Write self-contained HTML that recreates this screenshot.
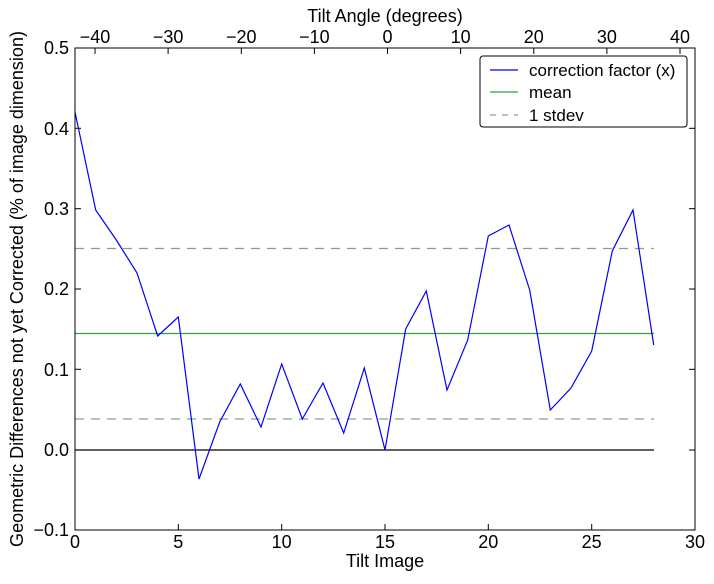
<!DOCTYPE html>
<html><head><style>body{margin:0;background:#fff;}svg text{font-family:"Liberation Sans",sans-serif;}</style></head><body>
<svg width="714" height="579" xmlns="http://www.w3.org/2000/svg">
<rect width="714" height="579" fill="#fff"/>
<g id="plot">
<line x1="75" y1="450" x2="654" y2="450" stroke="#000" stroke-width="1.3"/>
<line x1="75" y1="333.5" x2="654" y2="333.5" stroke="#3a9e3a" stroke-width="1.2"/>
<line x1="75" y1="248.5" x2="654" y2="248.5" stroke="#7fa87f" stroke-width="1.2" stroke-dasharray="9,7"/>
<line x1="75" y1="419" x2="654" y2="419" stroke="#7fa87f" stroke-width="1.2" stroke-dasharray="9,7"/>
<polyline fill="none" stroke="#0000ff" stroke-width="1.2" points="75,112 95.7,210 116.3,240 137,273 157.7,336 178.3,317 199,479 219.7,422 240.3,384 261,427 281.7,364 302.3,419 323,383 343.7,433 364.3,368 385,450 405.7,329 426.3,291 447,390 467.7,340 488.3,236 509,225 529.7,290 550.3,410 571,388 591.7,351 612.3,251 633,210 653.7,345"/>
</g>
<rect x="75" y="48" width="620" height="482" fill="none" stroke="#000" stroke-width="1"/>
<g stroke="#000" stroke-width="1">
<line x1="75" y1="530" x2="75" y2="524"/><line x1="178.3" y1="530" x2="178.3" y2="524"/><line x1="281.7" y1="530" x2="281.7" y2="524"/><line x1="385" y1="530" x2="385" y2="524"/><line x1="488.3" y1="530" x2="488.3" y2="524"/><line x1="591.7" y1="530" x2="591.7" y2="524"/>
<line x1="75" y1="48" x2="81" y2="48"/><line x1="75" y1="128.3" x2="81" y2="128.3"/><line x1="75" y1="208.7" x2="81" y2="208.7"/><line x1="75" y1="289" x2="81" y2="289"/><line x1="75" y1="369.3" x2="81" y2="369.3"/><line x1="75" y1="450" x2="81" y2="450"/>
<line x1="695" y1="128.3" x2="689" y2="128.3"/><line x1="695" y1="208.7" x2="689" y2="208.7"/><line x1="695" y1="289" x2="689" y2="289"/><line x1="695" y1="369.3" x2="689" y2="369.3"/><line x1="695" y1="450" x2="689" y2="450"/>
<line x1="95" y1="48" x2="95" y2="54"/><line x1="168.1" y1="48" x2="168.1" y2="54"/><line x1="241.3" y1="48" x2="241.3" y2="54"/><line x1="314.4" y1="48" x2="314.4" y2="54"/><line x1="387.5" y1="48" x2="387.5" y2="54"/><line x1="460.6" y1="48" x2="460.6" y2="54"/><line x1="533.8" y1="48" x2="533.8" y2="54"/><line x1="606.9" y1="48" x2="606.9" y2="54"/><line x1="680" y1="48" x2="680" y2="54"/>
</g>
<g font-size="18" fill="#000" text-anchor="middle">
<text x="75" y="548">0</text><text x="178.3" y="548">5</text><text x="281.7" y="548">10</text><text x="385" y="548">15</text><text x="488.3" y="548">20</text><text x="591.7" y="548">25</text><text x="695" y="548">30</text>
<text x="95" y="43">−40</text><text x="168.1" y="43">−30</text><text x="241.3" y="43">−20</text><text x="314.4" y="43">−10</text><text x="387.5" y="43">0</text><text x="460.6" y="43">10</text><text x="533.8" y="43">20</text><text x="606.9" y="43">30</text><text x="680" y="43">40</text>
<text x="385" y="567">Tilt Image</text>
<text x="385" y="22">Tilt Angle (degrees)</text>
</g>
<g font-size="18" fill="#000" text-anchor="end">
<text x="69" y="54">0.5</text><text x="69" y="135">0.4</text><text x="69" y="215">0.3</text><text x="69" y="295">0.2</text><text x="69" y="376">0.1</text><text x="69" y="456">0.0</text><text x="69" y="536">−0.1</text>
</g>
<text transform="translate(23,289) rotate(-90)" font-size="18" text-anchor="middle">Geometric Differences not yet Corrected (% of image dimension)</text>
<rect x="480" y="56" width="207" height="71" rx="3" fill="#fff" stroke="#000" stroke-width="1"/>
<line x1="490" y1="70" x2="518" y2="70" stroke="#0000ff" stroke-width="1.2"/>
<line x1="490" y1="92" x2="518" y2="92" stroke="#3a9e3a" stroke-width="1.2"/>
<line x1="490" y1="115" x2="518" y2="115" stroke="#7fa87f" stroke-width="1.2" stroke-dasharray="6,6"/>
<g font-size="17"><text x="529" y="76">correction factor (x)</text><text x="529" y="98">mean</text><text x="529" y="121">1 stdev</text></g>
</svg>
</body></html>
